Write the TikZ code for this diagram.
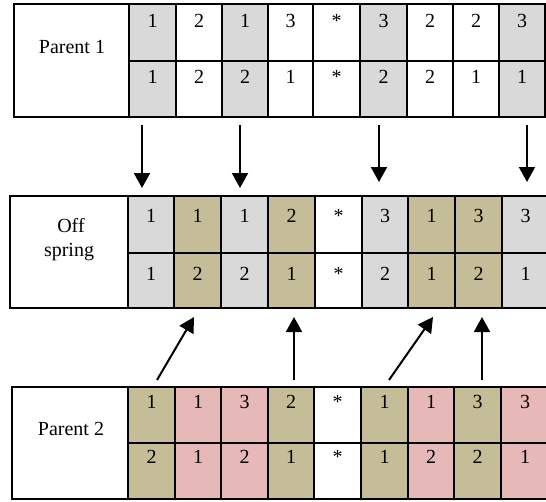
\documentclass[tikz,border=0pt]{standalone}
\usepackage{fontspec}
\setmainfont{Liberation Serif}
\usetikzlibrary{arrows.meta}
\definecolor{cgray}{HTML}{D9D9D9}
\definecolor{ctan}{HTML}{C4BD97}
\definecolor{cpink}{HTML}{E6B9B8}
\tikzset{
  gridline/.style={line width=1.4pt},
  digit/.style={font=\fontsize{20}{24}\selectfont, anchor=base, inner sep=0pt},
  tag/.style={font=\fontsize{20}{24}\selectfont, anchor=base, inner sep=0pt},
  genearrow/.style={line width=2pt, -{Triangle[width=16pt,length=15pt]}},
}
\begin{document}
\begin{tikzpicture}[x=1pt,y=-1pt]
\useasboundingbox (0,0) rectangle (546,501);
\clip (0,0) rectangle (546,501);

% ---------- Parent 1 ----------
\foreach \xl/\xr/\col/\t/\b [count=\i] in
  {129/176/cgray/1/1, 176/222/white/2/2, 222/268/cgray/1/2,
   268/313/white/3/1, 313/360/white/*/*, 360/407/cgray/3/2,
   407/453/white/2/2, 453/499/white/2/1, 499/545/cgray/3/1} {
  \fill[\col] (\xl,4) rectangle (\xr,117);
  \node[digit] (pa-t\i) at ({(\xl+\xr)/2},27) {\t};
  \node[digit] (pa-b\i) at ({(\xl+\xr)/2},83) {\b};
  \draw[gridline] (\xl,4) -- (\xl,117);
}
\draw[gridline] (14,4) rectangle (545,117);
\draw[gridline] (129,61) -- (545,61);
\node[tag] (pa) at (72,53) {Parent 1};

% ---------- Offspring ----------
\foreach \xl/\xr/\col/\t/\b [count=\i] in
  {128/174/cgray/1/1, 174/221/ctan/1/2, 221/268/cgray/1/2,
   268/315/ctan/2/1, 315/362/white/*/*, 362/408/cgray/3/2,
   408/455/ctan/1/1, 455/502/ctan/3/2, 502/549/cgray/3/1} {
  \fill[\col] (\xl,196) rectangle (\xr,308);
  \node[digit] (of-t\i) at ({(\xl+\xr)/2},222) {\t};
  \node[digit] (of-b\i) at ({(\xl+\xr)/2},280) {\b};
  \draw[gridline] (\xl,196) -- (\xl,308);
}
\draw[gridline] (549,196) -- (10,196) -- (10,308) -- (549,308);
\draw[gridline] (128,253) -- (549,253);
\node[tag] (ofa) at (71,232) {Off};
\node[tag] (ofb) at (69,256) {spring};

% ---------- Parent 2 ----------
\foreach \xl/\xr/\col/\t/\b [count=\i] in
  {128/175/ctan/1/2, 175/221/cpink/1/1, 221/268/cpink/3/2,
   268/314/ctan/2/1, 314/361/white/*/*, 361/408/ctan/1/1,
   408/454/cpink/1/2, 454/501/ctan/3/2, 501/549/cpink/3/1} {
  \fill[\col] (\xl,387) rectangle (\xr,499);
  \node[digit] (pb-t\i) at ({(\xl+\xr)/2},408) {\t};
  \node[digit] (pb-b\i) at ({(\xl+\xr)/2},463) {\b};
  \draw[gridline] (\xl,387) -- (\xl,499);
}
\draw[gridline] (549,387) -- (12,387) -- (12,499) -- (549,499);
\draw[gridline] (128,443) -- (549,443);
\node[tag] (pb) at (71,435) {Parent 2};

% ---------- genes taken from Parent 1 ----------
\coordinate (d1s) at (142,125); \coordinate (d1e) at (142,188);
\coordinate (d2s) at (240,125); \coordinate (d2e) at (240,188);
\coordinate (d3s) at (379,125); \coordinate (d3e) at (379,182);
\coordinate (d4s) at (527,125); \coordinate (d4e) at (527,182);
\foreach \k in {1,...,4} \draw[genearrow] (d\k s) -- (d\k e);

% ---------- genes taken from Parent 2 ----------
\coordinate (u1s) at (157,380); \coordinate (u1e) at (194,317);
\coordinate (u2s) at (294,380); \coordinate (u2e) at (294,317);
\coordinate (u3s) at (389,380); \coordinate (u3e) at (433,317);
\coordinate (u4s) at (482,380); \coordinate (u4e) at (482,317);
\foreach \k in {1,...,4} \draw[genearrow] (u\k s) -- (u\k e);
\end{tikzpicture}
\end{document}
